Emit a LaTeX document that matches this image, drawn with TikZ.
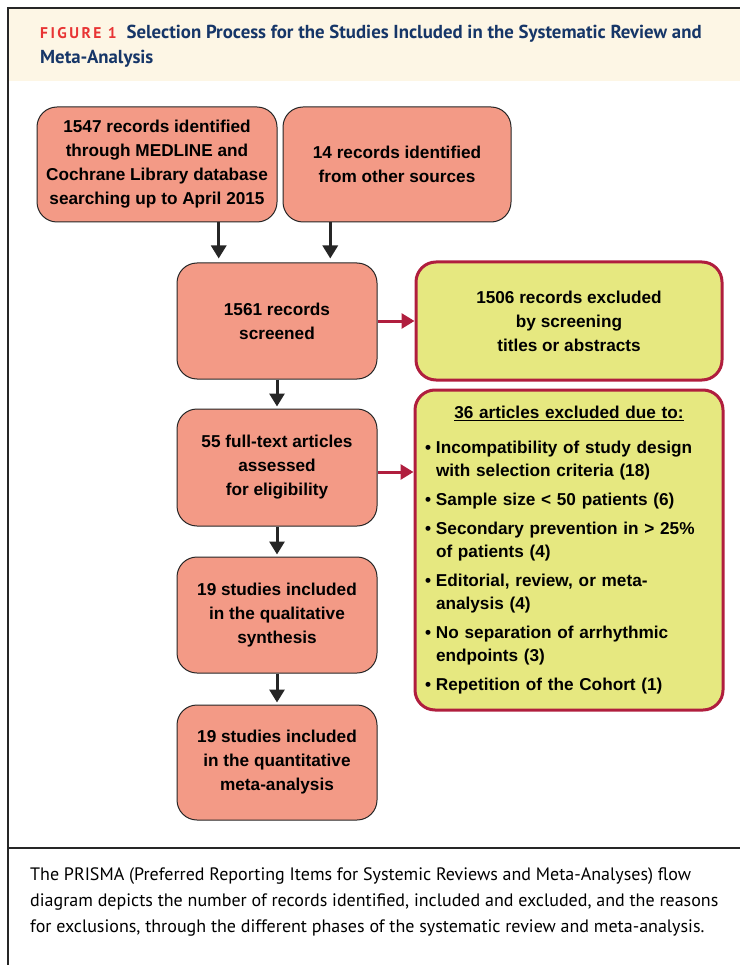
\documentclass[tikz,border=0pt]{standalone}
\usepackage{fontspec}
\setmainfont{Liberation Sans}
\newfontfamily\ptsans{PT Sans}
\newfontfamily\figlabel[LetterSpace=16]{PT Sans}
\usetikzlibrary{arrows.meta,calc}

\definecolor{boxsalmon}{RGB}{243,154,134}
\definecolor{boxyellow}{RGB}{230,232,128}
\definecolor{exclred}{RGB}{176,30,62}
\definecolor{headbg}{RGB}{253,246,229}
\definecolor{titlenavy}{RGB}{22,54,104}
\definecolor{figred}{RGB}{232,52,52}

\newcommand{\flowfont}{\fontsize{17.2}{24}\selectfont\bfseries}
\newcommand{\listfont}{\fontsize{17.2}{23}\selectfont\bfseries}
\newcommand{\bul}{\makebox[11pt][l]{\textbullet}}
\newcommand{\hang}{\hspace*{11pt}}

\begin{document}
\begin{tikzpicture}[x=1pt,y=-1pt,
  stage/.style={draw=black!85, line width=1pt, fill=boxsalmon, rounded corners=20pt,
    align=center, font=\flowfont, inner sep=2pt},
  excl/.style={draw=exclred, line width=3pt, fill=boxyellow, rounded corners=20pt,
    align=center, font=\flowfont, inner sep=2pt},
  flow/.style={line width=3pt, black!85, -{Triangle[width=15pt,length=13pt]}},
  exclarrow/.style={line width=3pt, exclred, -{Triangle[width=15pt,length=13pt]}}]

\useasboundingbox (0,0) rectangle (740,965);

\fill[headbg] (9,9) rectangle (740,81);
\draw[line width=2pt, black!85] (8,965) -- (8,8) -- (740,8);
\draw[line width=1.5pt, black!85] (8,848) -- (740,848);

\node[anchor=base west, font=\ptsans\fontsize{18.8}{25}\selectfont\bfseries, text=titlenavy, inner sep=0pt]
  (title1) at (40,39) {{\figlabel\bfseries\color{figred}\fontsize{15.5}{25}\selectfont FIGURE 1}\hspace{10pt}Selection Process for the Studies Included in the Systematic Review and};
\node[anchor=base west, font=\ptsans\fontsize{18.8}{25}\selectfont\bfseries, text=titlenavy, inner sep=0pt]
  (title2) at (40,64) {Meta-Analysis};

\node[stage, minimum width=240pt, minimum height=115pt] (medline) at (157,164.5)
  {1547 records identified\\through MEDLINE and\\Cochrane Library database\\searching up to April 2015};
\node[stage, minimum width=228pt, minimum height=115pt] (other) at (397,164.5)
  {14 records identified\\from other sources};
\node[stage, minimum width=200pt, minimum height=116pt] (screen) at (277,321)
  {1561 records\\screened};
\node[excl, minimum width=306pt, minimum height=118pt] (titleexcl) at (569,321)
  {1506 records excluded\\by screening\\titles or abstracts};
\node[stage, minimum width=200pt, minimum height=117pt] (fulltext) at (277,467.5)
  {55 full-text articles\\assessed\\for eligibility};
\node[excl, minimum width=308pt, minimum height=320pt, align=left, font=\listfont,
  text width=288pt, inner xsep=10pt] (reasons) at (569,550)
  {\makebox[288pt][c]{\underline{36 articles excluded due to:}}\\[12pt]
   \bul Incompatibility of study design\\
   \hang with selection criteria (18)\\[6pt]
   \bul Sample size < 50 patients (6)\\[6pt]
   \bul Secondary prevention in > 25\%\\
   \hang of patients (4)\\[6pt]
   \bul Editorial, review, or meta-\\
   \hang analysis (4)\\[6pt]
   \bul No separation of arrhythmic\\
   \hang endpoints (3)\\[6pt]
   \bul Repetition of the Cohort (1)};
\node[stage, minimum width=200pt, minimum height=116pt] (quali) at (277,615)
  {19 studies included\\in the qualitative\\synthesis};
\node[stage, minimum width=200pt, minimum height=115pt] (quanti) at (277,762.5)
  {19 studies included\\in the quantitative\\meta-analysis};

\coordinate (in1) at ($(screen.north west)!0.21!(screen.north east)$);
\coordinate (in2) at ($(screen.north west)!0.765!(screen.north east)$);

\draw[flow, shorten >=4pt] (medline.south -| in1) -- (in1);
\draw[flow, shorten >=4pt] (other.south -| in2) -- (in2);
\draw[flow, shorten >=2pt] (screen.south) -- (fulltext.north);
\draw[flow, shorten >=2pt] (fulltext.south) -- (quali.north);
\draw[flow, shorten >=2pt] (quali.south) -- (quanti.north);

\draw[exclarrow] (screen.east) -- (titleexcl.west);
\coordinate (elig) at ($(fulltext.east)+(0,4.5)$);
\draw[exclarrow] (elig) -- (elig -| reasons.west);

\node[anchor=north west, align=left, font=\ptsans\fontsize{18}{26}\selectfont, inner sep=0pt]
  (caption) at (30,867)
  {The PRISMA (Preferred Reporting Items for Systemic Reviews and Meta-Analyses) flow\\
   diagram depicts the number of records identified, included and excluded, and the reasons\\
   for exclusions, through the different phases of the systematic review and meta-analysis.};

\end{tikzpicture}
\end{document}
